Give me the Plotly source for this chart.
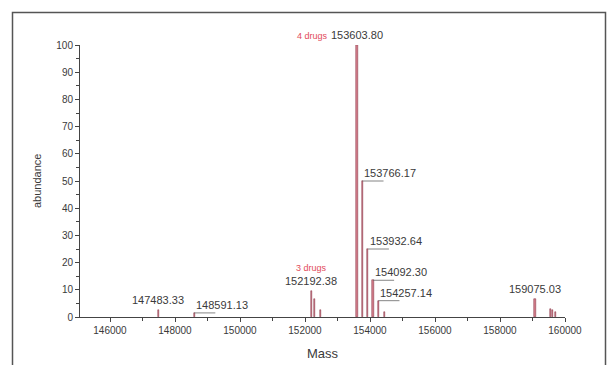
import plotly.graph_objects as go

# ---- data ----
peak_mass = [147483.33, 148591.13, 152192.38, 152300.0, 152480.0,
             153603.80, 153766.17, 153932.64, 154092.30, 154257.14, 154450.0,
             159075.03, 159560.0, 159622.0, 159702.0]
peak_abund = [2.5, 1.5, 9.5, 6.5, 2.5,
              100.0, 50.0, 25.0, 13.5, 6.0, 2.0,
              6.5, 3.0, 2.5, 2.0]

# labelled peaks: (mass, abundance, label, style)
lab_mass = [147483.33, 148591.13, 152192.38, 153603.80, 153766.17,
            153932.64, 154092.30, 154257.14, 159075.03]
lab_abund = [2.5, 1.5, 9.5, 100.0, 50.0, 25.0, 13.5, 6.0, 6.5]
lab_text = ["147483.33", "148591.13", "152192.38", "153603.80", "153766.17",
            "153932.64", "154092.30", "154257.14", "159075.03"]
lab_style = ["center", "leader", "center", "center", "leader",
             "leader", "leader", "leader", "center"]
drug_tag_mass = [152192.38, 153603.80]
drug_tag_text = ["3 drugs", "4 drugs"]

x_ticks = [146000, 148000, 150000, 152000, 154000, 156000, 158000, 160000]
y_ticks = [0, 10, 20, 30, 40, 50, 60, 70, 80, 90, 100]

FONT = "Liberation Sans, Arial, sans-serif"
TXT = "#3a3a3a"
RED = "#e24a5a"
AX = "#444444"

fig = go.Figure()
fig.add_trace(go.Bar(
    x=peak_mass, y=peak_abund, width=40,
    marker=dict(color="#d9828f", line=dict(color="#7a2536", width=0.5)),
    showlegend=False, hoverinfo="x+y"))

L, R, T, B = 80, 47, 45, 48
W, H = 612, 365
pw, ph = W - L - R, H - T - B

def px_to_paper_x(px):
    return (px - L) / pw

def px_to_paper_y(py):
    return (H - B - py) / ph

ann = []
shapes = []
for m, a, t, s in zip(lab_mass, lab_abund, lab_text, lab_style):
    tag = None
    if m in drug_tag_mass:
        tag = drug_tag_text[drug_tag_mass.index(m)]
    if s == "center":
        if tag is not None and a < 50:
            txt = f'<span style="color:{RED};font-size:9px">{tag}</span><br>{t}'
        else:
            txt = t
        ann.append(dict(x=m, y=a, xref="x", yref="y", text=txt, showarrow=False,
                        xanchor="center", yanchor="bottom", yshift=2,
                        font=dict(family=FONT, size=11, color=TXT)))
        if tag is not None and a >= 50:
            ann.append(dict(x=m, y=a, xref="x", yref="y", text=tag, showarrow=False,
                            xanchor="right", yanchor="bottom", yshift=2, xshift=-27,
                            font=dict(family=FONT, size=9, color=RED)))
    else:
        ann.append(dict(x=m, y=a, xref="x", yref="y", text=t, showarrow=False,
                        xanchor="left", yanchor="bottom", yshift=0, xshift=0,
                        font=dict(family=FONT, size=11, color=TXT)))
        shapes.append(dict(type="line", xref="x", yref="y", x0=m, x1=m + 650,
                           y0=a, y1=a, line=dict(color="#666666", width=0.8)))

ann.append(dict(x=0.5, y=px_to_paper_y(353), xref="paper", yref="paper",
                text="Mass", showarrow=False, xanchor="center", yanchor="middle",
                font=dict(family=FONT, size=13, color=TXT)))
ann.append(dict(x=px_to_paper_x(37), y=0.5, xref="paper", yref="paper",
                text="abundance", showarrow=False, textangle=-90,
                xanchor="center", yanchor="middle",
                font=dict(family=FONT, size=11, color=TXT)))

# outer frame
shapes.append(dict(type="rect", xref="paper", yref="paper",
                   x0=px_to_paper_x(12.5), x1=px_to_paper_x(605.5),
                   y0=px_to_paper_y(400), y1=px_to_paper_y(12.5),
                   line=dict(color="#555555", width=1.5), fillcolor="rgba(0,0,0,0)",
                   layer="above"))

fig.update_layout(
    width=W, height=H,
    margin=dict(l=L, r=R, t=T, b=B, pad=0),
    paper_bgcolor="white", plot_bgcolor="white",
    annotations=ann, shapes=shapes,
    font=dict(family=FONT, size=10, color=TXT),
    xaxis=dict(range=[145077, 160000], tickvals=x_ticks,
               ticktext=[str(v) for v in x_ticks],
               showgrid=False, zeroline=False, showline=True,
               linecolor=AX, linewidth=1, ticks="outside", ticklen=4,
               tickcolor=AX, tickwidth=1,
               minor=dict(dtick=1000, tick0=145000, ticks="outside", ticklen=3,
                          tickcolor=AX, showgrid=False),
               tickfont=dict(family=FONT, size=10, color=TXT)),
    yaxis=dict(range=[0, 100], tickvals=y_ticks,
               showgrid=False, zeroline=False, showline=True,
               linecolor=AX, linewidth=1, ticks="outside", ticklen=4,
               tickcolor=AX, tickwidth=1,
               minor=dict(dtick=5, tick0=0, ticks="outside", ticklen=3,
                          tickcolor=AX, showgrid=False),
               tickfont=dict(family=FONT, size=10, color=TXT)),
    bargap=0,
)

fig.write_html("out.html")
